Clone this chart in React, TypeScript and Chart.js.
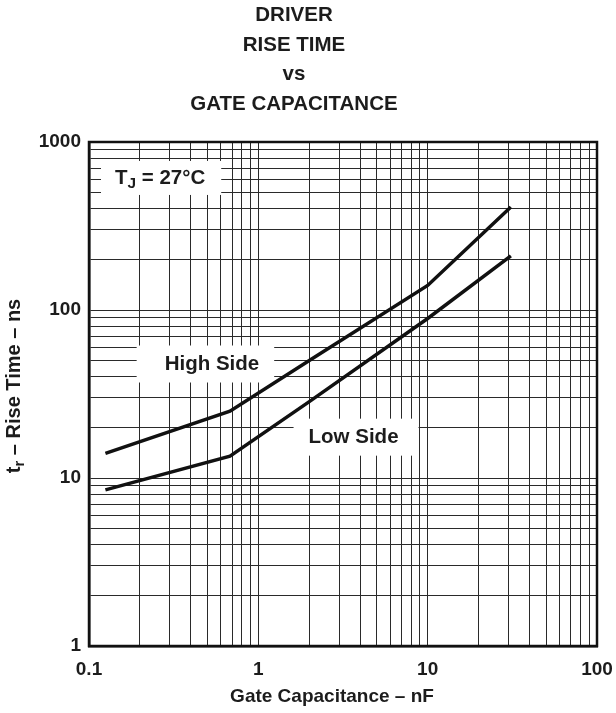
import React, { useEffect, useRef } from 'react';
import { Chart, registerables } from 'chart.js';

Chart.register(...registerables);

// ---- data ----
const capacitanceNF = [0.125, 0.68, 2, 10, 31];
const highSideNs = [14, 25, 50, 140, 410];
const lowSideNs = [8.5, 13.5, 28.5, 89, 210];

const xDecades = [0.1, 1, 10, 100];
const xTickLabels = ['0.1', '1', '10', '100'];
const yDecades = [1, 10, 100, 1000];
const yTickLabels = ['1', '10', '100', '1000'];

const titleLines = ['DRIVER', 'RISE TIME', 'vs', 'GATE CAPACITANCE'];
const xAxisTitle = 'Gate Capacitance – nF';
const yAxisTitleMain = 't';
const yAxisTitleSub = 'r';
const yAxisTitleRest = ' – Rise Time – ns';

// annotation text anchored in data coordinates
const annotations = [
  { parts: [['T', false], ['J', true], [' = 27°C', false]], x: 0.263, y: 611, padL: 14, padR: 16, h: 34 },
  { parts: [['High Side', false]], x: 0.532, y: 47.7, padL: 28, padR: 15, h: 37 },
  { parts: [['Low Side', false]], x: 3.65, y: 17.5, padL: 15, padR: 20, h: 37 },
];

const FONT = '"Liberation Sans", Arial, Helvetica, sans-serif';
const INK = '#1c1c1c';
const ANNO_SIZE = 20.5;

function gridValues(decades: number[]): number[] {
  const out: number[] = [];
  for (let i = 0; i < decades.length - 1; i++) {
    for (let m = 1; m <= 9; m++) out.push(decades[i] * m);
  }
  out.push(decades[decades.length - 1]);
  return out;
}

function labelFor(v: number, decades: number[], labels: string[]): string {
  for (let i = 0; i < decades.length; i++) {
    if (Math.abs(Math.log10(v) - Math.log10(decades[i])) < 1e-6) return labels[i];
  }
  return '';
}

function measureParts(ctx: CanvasRenderingContext2D, parts: any[], size: number) {
  let total = 0;
  for (const [t, isSub] of parts) {
    ctx.font = `bold ${isSub ? size * 0.75 : size}px ${FONT}`;
    total += ctx.measureText(t).width;
  }
  return total;
}

function drawParts(ctx: CanvasRenderingContext2D, parts: any[], cx: number, cy: number, size: number) {
  const total = measureParts(ctx, parts, size);
  let x = cx - total / 2;
  ctx.textAlign = 'left';
  ctx.textBaseline = 'middle';
  for (const [t, isSub] of parts) {
    ctx.font = `bold ${isSub ? size * 0.75 : size}px ${FONT}`;
    ctx.fillText(t, x, cy + (isSub ? size * 0.3 : 0));
    x += ctx.measureText(t).width;
  }
  return total;
}

const decorPlugin = {
  id: 'decor',
  beforeDatasetsDraw(chart: any) {
    const ctx = chart.ctx as CanvasRenderingContext2D;
    const xs = chart.scales.x;
    const ys = chart.scales.y;
    ctx.save();
    for (const a of annotations) {
      const cx = xs.getPixelForValue(a.x);
      const cy = ys.getPixelForValue(a.y);
      const w = measureParts(ctx, a.parts as any[], ANNO_SIZE);
      ctx.fillStyle = '#ffffff';
      ctx.fillRect(cx - w / 2 - a.padL, cy - a.h / 2, w + a.padL + a.padR, a.h);
      ctx.fillStyle = INK;
      drawParts(ctx, a.parts as any[], cx, cy, ANNO_SIZE);
    }
    ctx.restore();
  },
  afterDraw(chart: any) {
    const ctx = chart.ctx as CanvasRenderingContext2D;
    const area = chart.chartArea;
    ctx.save();
    // frame
    ctx.strokeStyle = '#111';
    ctx.lineWidth = 2.5;
    ctx.strokeRect(area.left, area.top, area.right - area.left, area.bottom - area.top);
    // title
    ctx.fillStyle = INK;
    ctx.textAlign = 'center';
    ctx.textBaseline = 'middle';
    ctx.font = `bold 20.5px ${FONT}`;
    const ty = [15, 45, 74, 104];
    titleLines.forEach((t, i) => ctx.fillText(t, 294, ty[i]));
    // x title
    ctx.font = `bold 19px ${FONT}`;
    ctx.fillText(xAxisTitle, 332, 697);
    // y title
    ctx.translate(14, 386);
    ctx.rotate(-Math.PI / 2);
    drawParts(ctx, [[yAxisTitleMain, false], [yAxisTitleSub, true], [yAxisTitleRest, false]], 0, 0, 20);
    ctx.restore();
  },
};

export default function App() {
  const ref = useRef<HTMLCanvasElement | null>(null);
  useEffect(() => {
    if (!ref.current) return;
    const line = (data: number[]) => capacitanceNF.map((x, i) => ({ x, y: data[i] }));
    const chart = new Chart(ref.current, {
      type: 'line',
      data: {
        datasets: [
          { label: 'High Side', data: line(highSideNs), borderColor: '#111', borderWidth: 3.5, pointRadius: 0, fill: false, tension: 0 },
          { label: 'Low Side', data: line(lowSideNs), borderColor: '#111', borderWidth: 3.5, pointRadius: 0, fill: false, tension: 0 },
        ],
      },
      options: {
        animation: false,
        responsive: false,
        devicePixelRatio: 1,
        layout: { padding: { top: 142, right: 19, left: 0, bottom: 0 } },
        plugins: { legend: { display: false }, tooltip: { enabled: false }, title: { display: false } },
        scales: {
          x: {
            type: 'logarithmic',
            min: xDecades[0],
            max: xDecades[xDecades.length - 1],
            afterBuildTicks: (s: any) => { s.ticks = gridValues(xDecades).map((v) => ({ value: v })); },
            afterFit: (s: any) => { s.height = 67; s.paddingLeft = 0; s.paddingRight = 0; },
            grid: { color: '#2a2a2a', lineWidth: 1, drawTicks: false },
            border: { display: true, color: '#111', width: 2.5 },
            ticks: {
              autoSkip: false,
              maxRotation: 0,
              padding: 12,
              color: INK,
              font: { family: FONT, size: 19, weight: 'bold' },
              callback: (v: any) => labelFor(Number(v), xDecades, xTickLabels),
            },
          },
          y: {
            type: 'logarithmic',
            min: yDecades[0],
            max: yDecades[yDecades.length - 1],
            afterBuildTicks: (s: any) => { s.ticks = gridValues(yDecades).map((v) => ({ value: v })); },
            afterFit: (s: any) => { s.width = 89; s.paddingTop = 0; s.paddingBottom = 0; },
            grid: { color: '#2a2a2a', lineWidth: 1, drawTicks: false },
            border: { display: true, color: '#111', width: 2.5 },
            ticks: {
              autoSkip: false,
              padding: 8,
              color: INK,
              font: { family: FONT, size: 19, weight: 'bold' },
              callback: (v: any) => labelFor(Number(v), yDecades, yTickLabels),
            },
          },
        },
      },
      plugins: [decorPlugin],
    } as any);
    return () => chart.destroy();
  }, []);
  return (
    <div style={{ position: 'fixed', left: 0, top: 0, width: 616, height: 713, background: '#fff' }}>
      <canvas ref={ref} width={616} height={713} style={{ width: 616, height: 713, display: 'block' }} />
    </div>
  );
}
